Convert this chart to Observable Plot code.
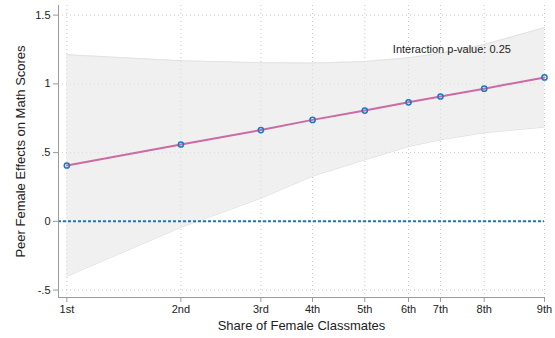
<!DOCTYPE html>
<html>
<head>
<meta charset="utf-8">
<script src="https://cdn.jsdelivr.net/npm/d3@7"></script>
<script src="https://cdn.jsdelivr.net/npm/@observablehq/plot@0.6"></script>
<style>
  html, body { margin: 0; padding: 0; background: #fff; }
  #chart { width: 555px; height: 338px; }
  svg { font-family: "Liberation Sans", Arial, Helvetica, sans-serif; }
</style>
</head>
<body>
<div id="chart"></div>
<script>
// Deciles of the share of female classmates (x position = share value)
const decileLabels = ["1st", "2nd", "3rd", "4th", "5th", "6th", "7th", "8th", "9th"];
const shares = [0.300, 0.3764, 0.430, 0.4646, 0.4996, 0.5289, 0.5503, 0.5796, 0.620];
// Estimated peer female effect and 95% CI
const effect = [0.406, 0.559, 0.664, 0.738, 0.806, 0.866, 0.908, 0.965, 1.047];
const ciLower = [-0.400, -0.044, 0.168, 0.328, 0.447, 0.544, 0.593, 0.644, 0.685];
const ciUpper = [1.212, 1.168, 1.154, 1.151, 1.162, 1.190, 1.222, 1.286, 1.409];
const yTicks = [-0.5, 0, 0.5, 1, 1.5];
const xDomain = [0.2944, 0.620];
const yDomain = [-0.554, 1.57];
const xTitle = "Share of Female Classmates";
const yTitle = "Peer Female Effects on Math Scores";
const annotation = [{x: 0.5184, y: 1.25, text: "Interaction p-value: 0.25"}];

const data = shares.map((s, i) => ({
  share: s, label: decileLabels[i], effect: effect[i], lo: ciLower[i], hi: ciUpper[i]
}));
const labelOf = new Map(shares.map((s, i) => [s, decileLabels[i]]));
const fmtY = d => d === 0 ? "0" : String(d).replace(/^(-?)0\./, "$1.");

const chart = Plot.plot({
  width: 555,
  height: 338,
  marginLeft: 58,
  marginRight: 11,
  marginTop: 5,
  marginBottom: 41,
  style: {fontFamily: "Liberation Sans, Arial, Helvetica, sans-serif", fontSize: "11px", color: "#222"},
  x: {domain: xDomain},
  y: {domain: yDomain},
  marks: [
    Plot.gridX(shares, {stroke: "#c8c8c8", strokeOpacity: 1, strokeDasharray: "1,3", strokeWidth: 1}),
    Plot.gridY(yTicks, {stroke: "#c8c8c8", strokeOpacity: 1, strokeDasharray: "1,3", strokeWidth: 1}),
    Plot.areaY(data, {x: "share", y1: "lo", y2: "hi", fill: "#e6e6e6", fillOpacity: 0.6}),
    Plot.line(data, {x: "share", y: "lo", stroke: "#e2e2e2", strokeWidth: 1}),
    Plot.line(data, {x: "share", y: "hi", stroke: "#e2e2e2", strokeWidth: 1}),
    Plot.ruleY([0], {stroke: "#1a78c2", strokeWidth: 2, strokeDasharray: "3,2"}),
    Plot.line(data, {x: "share", y: "effect", stroke: "#cc6aa3", strokeWidth: 2}),
    Plot.dot(data, {x: "share", y: "effect", r: 2.6, stroke: "#1c78c0", strokeWidth: 1.5, fill: "none"}),
    Plot.text(annotation, {x: "x", y: "y", text: "text", textAnchor: "start", fontSize: 11, fill: "#222"}),
    Plot.ruleX([xDomain[0]], {stroke: "#9a9a9a", strokeWidth: 1}),
    Plot.ruleY([yDomain[0]], {stroke: "#9a9a9a", strokeWidth: 1}),
    Plot.axisX(shares, {
      tickFormat: d => labelOf.get(d), tickSize: 5, tickPadding: 3, stroke: "#9a9a9a",
      label: null, fontSize: 11
    }),
    Plot.axisY(yTicks, {
      tickFormat: fmtY, tickSize: 5, tickPadding: 3, stroke: "#9a9a9a",
      label: null, fontSize: 11
    }),
    // Axis titles as text marks placed in the frame using the scales' domains
    Plot.text([xTitle], {
      x: [(xDomain[0] + xDomain[1]) / 2], frameAnchor: "bottom", dy: 32,
      text: d => d, fontSize: 13, fill: "#222", textAnchor: "middle"
    }),
    Plot.text([yTitle], {
      y: [(yDomain[0] + yDomain[1]) / 2], frameAnchor: "left", dx: -38, rotate: -90,
      text: d => d, fontSize: 13, fill: "#222", textAnchor: "middle"
    })
  ]
});
document.getElementById("chart").appendChild(chart);
</script>
</body>
</html>
